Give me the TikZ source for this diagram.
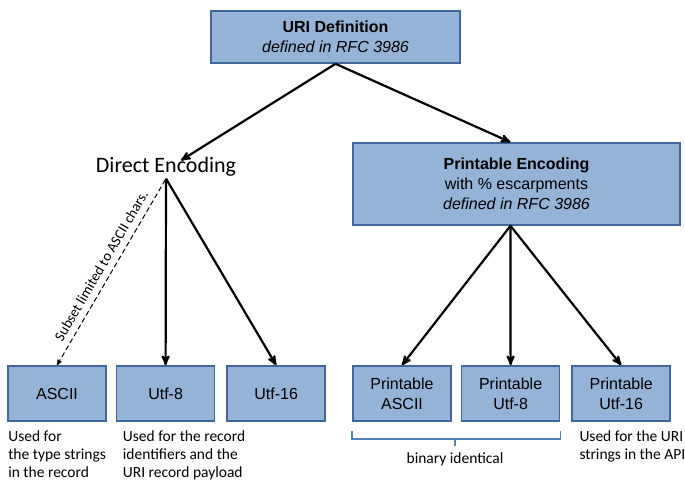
\documentclass[tikz,border=0pt]{standalone}
\usepackage{fontspec}
\setmainfont{Liberation Sans}
\newfontfamily\calibri{Carlito}
\usetikzlibrary{arrows,positioning}
\definecolor{boxfill}{HTML}{95B3D7}
\definecolor{boxline}{HTML}{41689A}
\definecolor{bracecol}{HTML}{4F81BD}

\begin{document}
\begin{tikzpicture}[->,>=stealth',x=1pt,y=-1pt,line width=2.2pt,
  block/.style={draw=boxline,line width=1.6pt,fill=boxfill,align=center,font=\fontsize{16}{20}\selectfont},
  leaf/.style={block,minimum width=98pt,minimum height=55pt,inner sep=0pt},
  note/.style={align=left,font=\calibri\fontsize{15.5}{18}\selectfont,inner sep=0pt,anchor=north west}]
	  \useasboundingbox (0,0) rectangle (685,498);
	  \node[block,minimum width=249pt,minimum height=52pt] (A) at (335.5,37) {\textbf{URI Definition}\\\textit{defined in RFC 3986}};
	  \node[font=\calibri\fontsize{22}{24}\selectfont,inner sep=1pt] (B) at (166,167) {Direct Encoding};
	  \node[block,minimum width=327pt,minimum height=82pt] (C) at (516.5,184) {\textbf{Printable Encoding}\\with \% escarpments\\\textit{defined in RFC 3986}};

	  \node[leaf] (D) at (57,393.5) {ASCII};
	  \node[leaf] (E) [right=9pt of D] {Utf-8};
	  \node[leaf] (F) [right=11pt of E] {Utf-16};
	  \node[leaf] (G) at (402,393.5) {Printable\\ASCII};
	  \node[leaf] (H) [right=9pt of G] {Printable\\Utf-8};
	  \node[leaf] (I) [right=11pt of H] {Printable\\Utf-16};

	  \path
(A.south) edge ([xshift=15pt,yshift=-5pt]B.north)
(A.south) edge ([xshift=-6pt]C.north)
(B.south) edge (E.north)
(B.south) edge (F.north)
(D.north) edge [<-,dashed,line width=1pt,dash pattern=on 5pt off 3pt] node [sloped,above=3pt,pos=0.5,font=\calibri\fontsize{14.5}{16}\selectfont] {Subset limited to ASCII chars.} (B.south)
([xshift=-6pt]C.south) edge (G.north)
([xshift=-6pt]C.south) edge (H.north)
([xshift=-6pt]C.south) edge (I.north)
;

	  % notes under the leaves
	  \node[note] (J) at ([yshift=-8pt]D.south west) {Used for\\the type strings\\in the record};
	  \node[note] (K) at ([xshift=6pt,yshift=-8pt]E.south west) {Used for the record\\identifiers and the\\URI record payload};
	  \node[note] (L) at ([xshift=7pt,yshift=-8pt]I.south west) {Used for the URI\\strings in the API};
	  \draw[-,draw=bracecol,line width=1.5pt] ([yshift=-9pt]G.south west) -- ([yshift=-17pt]G.south west) -- ([yshift=-17pt]H.south east) -- ([yshift=-9pt]H.south east);
	  \node[font=\calibri\fontsize{15.5}{18}\selectfont] (M) at (455,459) {binary identical};
	  \draw[-,draw=bracecol,line width=1.5pt] (M.north |- 0,438) -- (M.north |- 0,446);
\end{tikzpicture}
\end{document}
